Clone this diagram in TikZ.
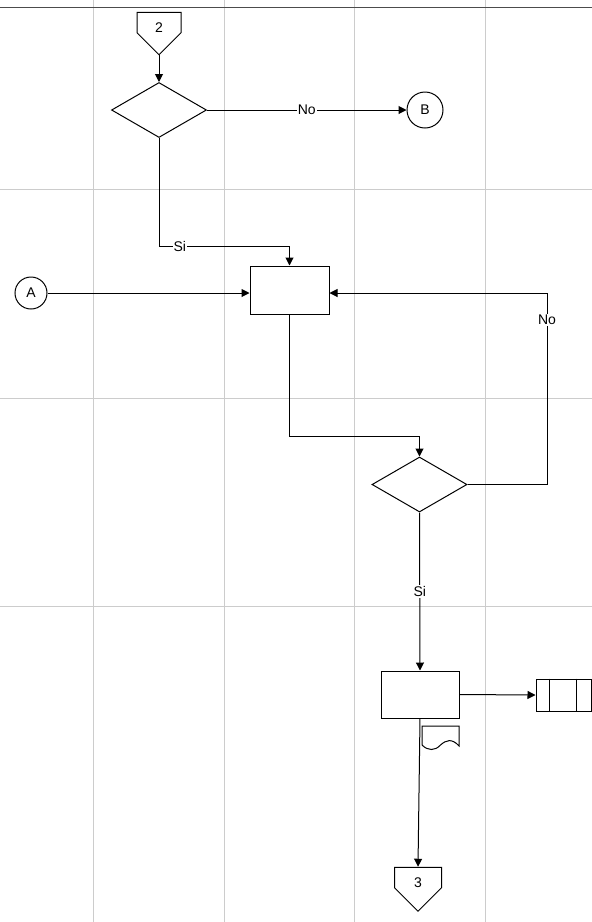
\documentclass[tikz,border=0pt]{standalone}
\usepackage{fontspec}
\setmainfont{Liberation Sans}
\usetikzlibrary{arrows.meta,shapes.geometric,shapes.symbols}

\begin{document}
\begin{tikzpicture}[
  x=1pt,y=-1pt,
  font=\fontsize{14}{16}\selectfont,
  line width=1pt,
  >={Triangle[length=8pt,width=8pt]},
  lane/.style={draw=black!20,line width=1pt},
  proc/.style={draw,rectangle,inner sep=0pt,minimum width=79pt,minimum height=48pt},
  test/.style={draw,diamond,inner sep=0pt,minimum width=95pt,minimum height=55pt},
  link/.style={draw,circle,inner sep=0pt},
  offpage/.style={draw,signal,signal to=south,signal from=nowhere,inner sep=0pt,
                  text height=20.5pt,text depth=0pt,
                  minimum width=44pt,minimum height=21pt},
  store/.style={draw,rectangle,inner sep=0pt,minimum width=55pt,minimum height=32pt},
  lbl/.style={fill=white,inner sep=1pt},
]
\useasboundingbox (0,0) rectangle (592,922);

% ---- swim lanes ----
\foreach \x in {93,224,354,485}
  \draw[lane] (\x,0) -- (\x,922);
\foreach \y in {189,398,606}
  \draw[lane] (0,\y) -- (592,\y);
\draw[draw=black!70] (0,7.5) -- (592,7.5);

% ---- nodes ----
\node[offpage] (c2) at (159,22.5) {2};
\node[test] (d1) at (159,110) {};
\node[link,minimum size=36pt] (B) at (425,110) {B};
\node[link,minimum size=32pt] (A) at (31,293) {A};
\node[proc] (p1) at (289.5,290) {};
\node[test] (d2) at (419.5,484.5) {};
\node[proc,minimum width=78pt,minimum height=47pt] (p2) at (420,694.5) {};
\node[store] (st) at (563.5,695) {};
\draw ([xshift=14pt]st.north west) -- ([xshift=14pt]st.south west);
\draw ([xshift=41pt]st.north west) -- ([xshift=41pt]st.south west);
\node[offpage,minimum width=47pt,minimum height=23pt] (c3) at (418,877.5) {3};

% document symbol under the second box
\draw (422,745) -- (422,726) -- (459,726) -- (459,746)
      .. controls (452,738) and (446,740) .. (440.5,745)
      .. controls (435,751) and (428,751) .. (422,745);

% ---- connectors ----
\draw[->] (c2.south) -- (d1.north);
\draw[->] (d1.east) -- node[lbl]{No} (B.west);
\draw[->] (d1.south) |- node[lbl,pos=0.58]{Si} ([yshift=19pt]p1.north) -- (p1.north);
\draw[->] (A.east) -- (A.east -| p1.west);
\coordinate (back) at (547,293);
\draw[->] (d2.east) -| node[lbl,pos=0.93]{No} (back) -- (back -| p1.east);
\draw[->] (p1.south) |- ([yshift=20pt]d2.north) -- (d2.north);
\draw[->] (d2.south) -- node[lbl]{Si} (p2.north);
\draw[->] (p2.east) -- (st.west);
\draw[->] (p2.south) -- (c3.north);

\end{tikzpicture}
\end{document}
